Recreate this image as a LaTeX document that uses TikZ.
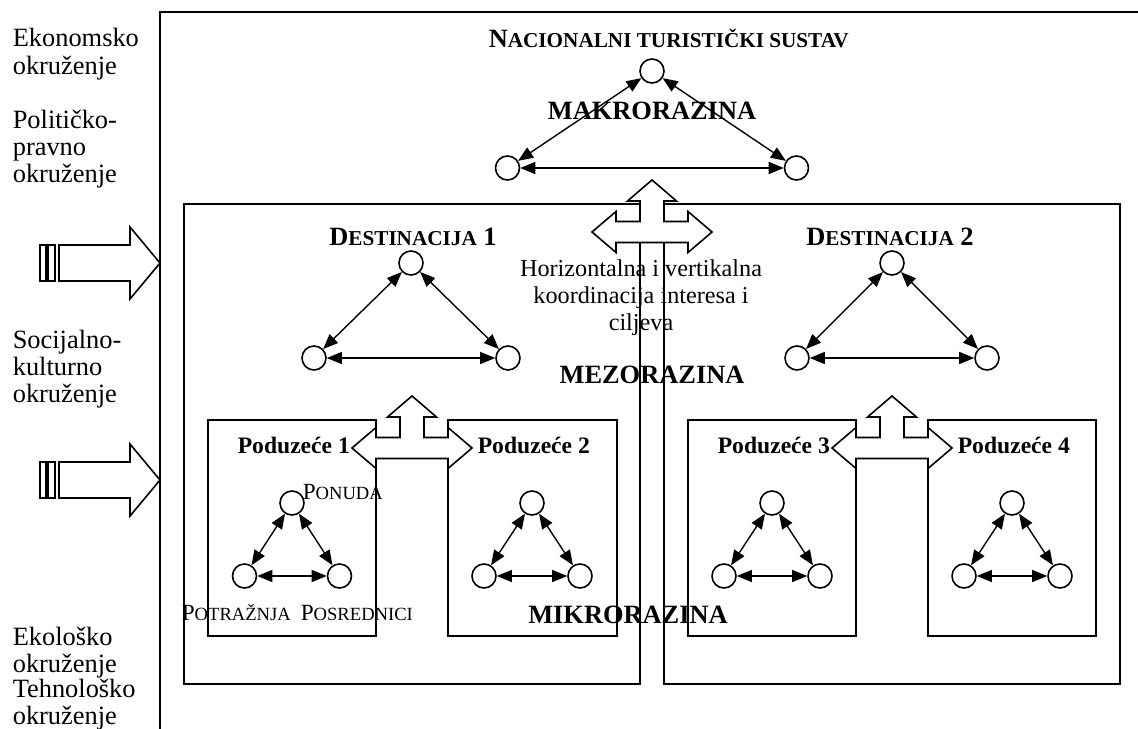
\documentclass[tikz,border=0pt]{standalone}
\usepackage{fontspec}
\setmainfont{Liberation Serif}
\usetikzlibrary{arrows.meta}

\newcommand{\mk}[2]{{\fontsize{#1}{#1}\selectfont #2}}

\tikzset{
  krug/.style={draw,circle,minimum size=12pt,inner sep=0pt,fill=white},
  veza/.style={{Triangle[length=7.5pt,width=6pt]}-{Triangle[length=7.5pt,width=6pt]},line width=0.7pt},
  okvir/.style={line width=1pt},
  tekst/.style={font=\fontsize{13.2}{13.5}\selectfont,align=left,anchor=base west,inner sep=0pt},
  razina/.style={font=\fontsize{13.2}{13.5}\selectfont\bfseries,anchor=base,inner sep=0pt},
  poduzece/.style={font=\fontsize{11.8}{13}\selectfont\bfseries,anchor=base west,inner sep=0pt},
  uloga/.style={font=\fontsize{11.6}{13}\selectfont,anchor=base west,inner sep=0pt},
  kriz/.pic={\draw[fill=white] (-60,0) -- (-36,-20.5) -- (-36,-10.5) -- (-12,-10.5) -- (-12,-31)
    -- (-24.5,-31) -- (0,-52) -- (24.5,-31) -- (12,-31) -- (12,-10.5) -- (36,-10.5) -- (36,-20.5)
    -- (60,0) -- (36,20.5) -- (36,10.5) -- (-36,10.5) -- (-36,20.5) -- cycle;},
  prug/.pic={\draw[fill=white] (0,0) -- (-30,-36) -- (-30,-18) -- (-101,-18) -- (-101,18)
    -- (-30,18) -- (-30,36) -- cycle;
    \draw[line width=0.7pt] (-120,-18) rectangle (-114,18) (-112,-18) rectangle (-105,18);}
}

\begin{document}
\begin{tikzpicture}[x=0.5pt,y=-0.5pt,line width=0.8pt]
  \useasboundingbox (0,0) rectangle (1138,728);

  \draw[okvir] (160,730) |- (1140,12);
  \draw[okvir] (184,204) rectangle (640,684);
  \draw[okvir] (664,204) rectangle (1120,684);
  \draw[okvir] (208,420) rectangle (376,636);
  \draw[okvir] (448,420) rectangle (617,636);
  \draw[okvir] (688,420) rectangle (856,636);
  \draw[okvir] (928,420) rectangle (1096,636);

  \pic at (652,232) {kriz};
  \pic at (412,448) {kriz};
  \pic at (892,448) {kriz};
  \pic at (160,263) {prug};
  \pic at (160,480) {prug};

  \foreach \ime/\x/\y/\dx/\dy in {makro/652/71/144.5/97, d1/411/263/97/95, d2/892/263/95/95,
      p1/292/503/47.5/73, p2/532/503/48/73, p3/772/503/48/73, p4/1012/503/48/73}{
    \node[krug] (\ime-g) at (\x,\y) {};
    \node[krug] (\ime-l) at (\x-\dx,\y+\dy) {};
    \node[krug] (\ime-d) at (\x+\dx,\y+\dy) {};
    \draw[veza] (\ime-g) -- (\ime-l);
    \draw[veza] (\ime-g) -- (\ime-d);
    \draw[veza] (\ime-l) -- (\ime-d);
  }

  \node[tekst] (ekon) at (12,74) {Ekonomsko\\okruženje};
  \node[tekst] (polit) at (12,182) {Političko-\\pravno\\okruženje};
  \node[tekst] (soc) at (12,402) {Socijalno-\\kulturno\\okruženje};
  \node[tekst] (ekol) at (12,672) {Ekološko\\okruženje};
  \node[tekst] (tehn) at (12,724) {Tehnološko\\okruženje};

  \node[razina,anchor=base west] (nts) at (488,47) {N\mk{10.6}{ACIONALNI TURISTIČKI SUSTAV}};
  \node[razina] (makro) at (652,119) {MAKRORAZINA};
  \node[razina] (mezo) at (652,383) {MEZORAZINA};
  \node[razina] (mikro) at (628,623) {MIKRORAZINA};
  \node[razina] (dest1) at (413,245) {D\mk{10.6}{ESTINACIJA} 1};
  \node[razina] (dest2) at (890,245) {D\mk{10.6}{ESTINACIJA} 2};
  \node[font=\fontsize{12.1}{13.5}\selectfont,align=center,anchor=base,inner sep=0pt] (koord)
    at (641,330) {Horizontalna i vertikalna\\koordinacija interesa i\\ciljeva};

  \node[poduzece] (pod1) at (237,453) {Poduzeće 1};
  \node[poduzece] (pod2) at (477,453) {Poduzeće 2};
  \node[poduzece] (pod3) at (717,453) {Poduzeće 3};
  \node[poduzece] (pod4) at (957,453) {Poduzeće 4};

  \node[uloga] (ponuda) at (302,499) {P\mk{9.3}{ONUDA}};
  \node[uloga] (potraznja) at (181,620) {P\mk{9.3}{OTRAŽNJA}};
  \node[uloga] (posrednici) at (300,620) {P\mk{9.3}{OSREDNICI}};
\end{tikzpicture}
\end{document}
